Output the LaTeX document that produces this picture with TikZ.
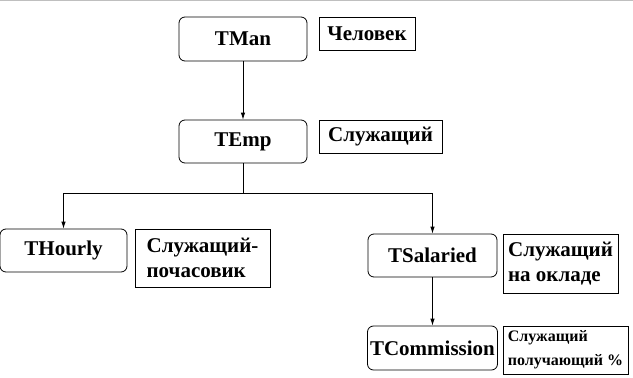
\documentclass[tikz,border=0pt]{standalone}
\usepackage{fontspec}
\setmainfont{Liberation Serif}
\usetikzlibrary{arrows.meta}
\begin{document}
\begin{tikzpicture}[x=1pt,y=-1pt,
  cls/.style={draw, rounded corners=6pt, line width=0.8pt, inner sep=0pt,
    font=\fontsize{21}{25}\selectfont\bfseries},
  lbl/.style={draw, line width=0.8pt, inner sep=0pt, align=left,
    font=\fontsize{21}{25}\selectfont\bfseries},
  conn/.style={line width=0.8pt},
  arr/.style={conn, -{Latex[length=7pt,width=4.5pt]}}]
\useasboundingbox (0,0) rectangle (633,378);
\draw[gray!50, line width=1.2pt] (0,0.6) -- (633,0.6);
% classes
\node[cls, minimum width=128pt, minimum height=44pt] (man) at (243,39) {TMan};
\node[cls, minimum width=128pt, minimum height=43pt] (emp) at (243,141.5) {TEmp};
\node[cls, minimum width=127pt, minimum height=43pt] (hourly) at (63.5,250.5) {THourly};
\node[cls, minimum width=129pt, minimum height=43pt] (sal) at (432.5,255.5) {TSalaried};
\node[cls, minimum width=130pt, minimum height=44pt] (com) at (432.5,348) {TCommission};
% labels
\node[lbl, minimum width=96pt, minimum height=33pt] (lman) at (367,33.5) {Человек};
\node[lbl, minimum width=123pt, minimum height=33pt] (lemp) at (380.5,136.5) {Служащий};
\node[lbl, minimum width=135pt, minimum height=58pt] (lhour) at (202.5,258) {Служащий-\\почасовик};
\node[lbl, minimum width=115pt, minimum height=59pt] (lsal) at (560.5,263.5) {Служащий\\на окладе};
\node[lbl, minimum width=125pt, minimum height=48pt, font=\fontsize{16}{24}\selectfont\bfseries] (lcom) at (565.5,350) {Служащий\\получающий \%};
% connectors
\coordinate (split) at (243,193);
\draw[arr] (man) -- (emp);
\draw[conn] (emp) -- (split);
\draw[arr] (split) -| (hourly);
\draw[arr] (split) -| (sal);
\draw[arr] (sal) -- (com);
\end{tikzpicture}
\end{document}
